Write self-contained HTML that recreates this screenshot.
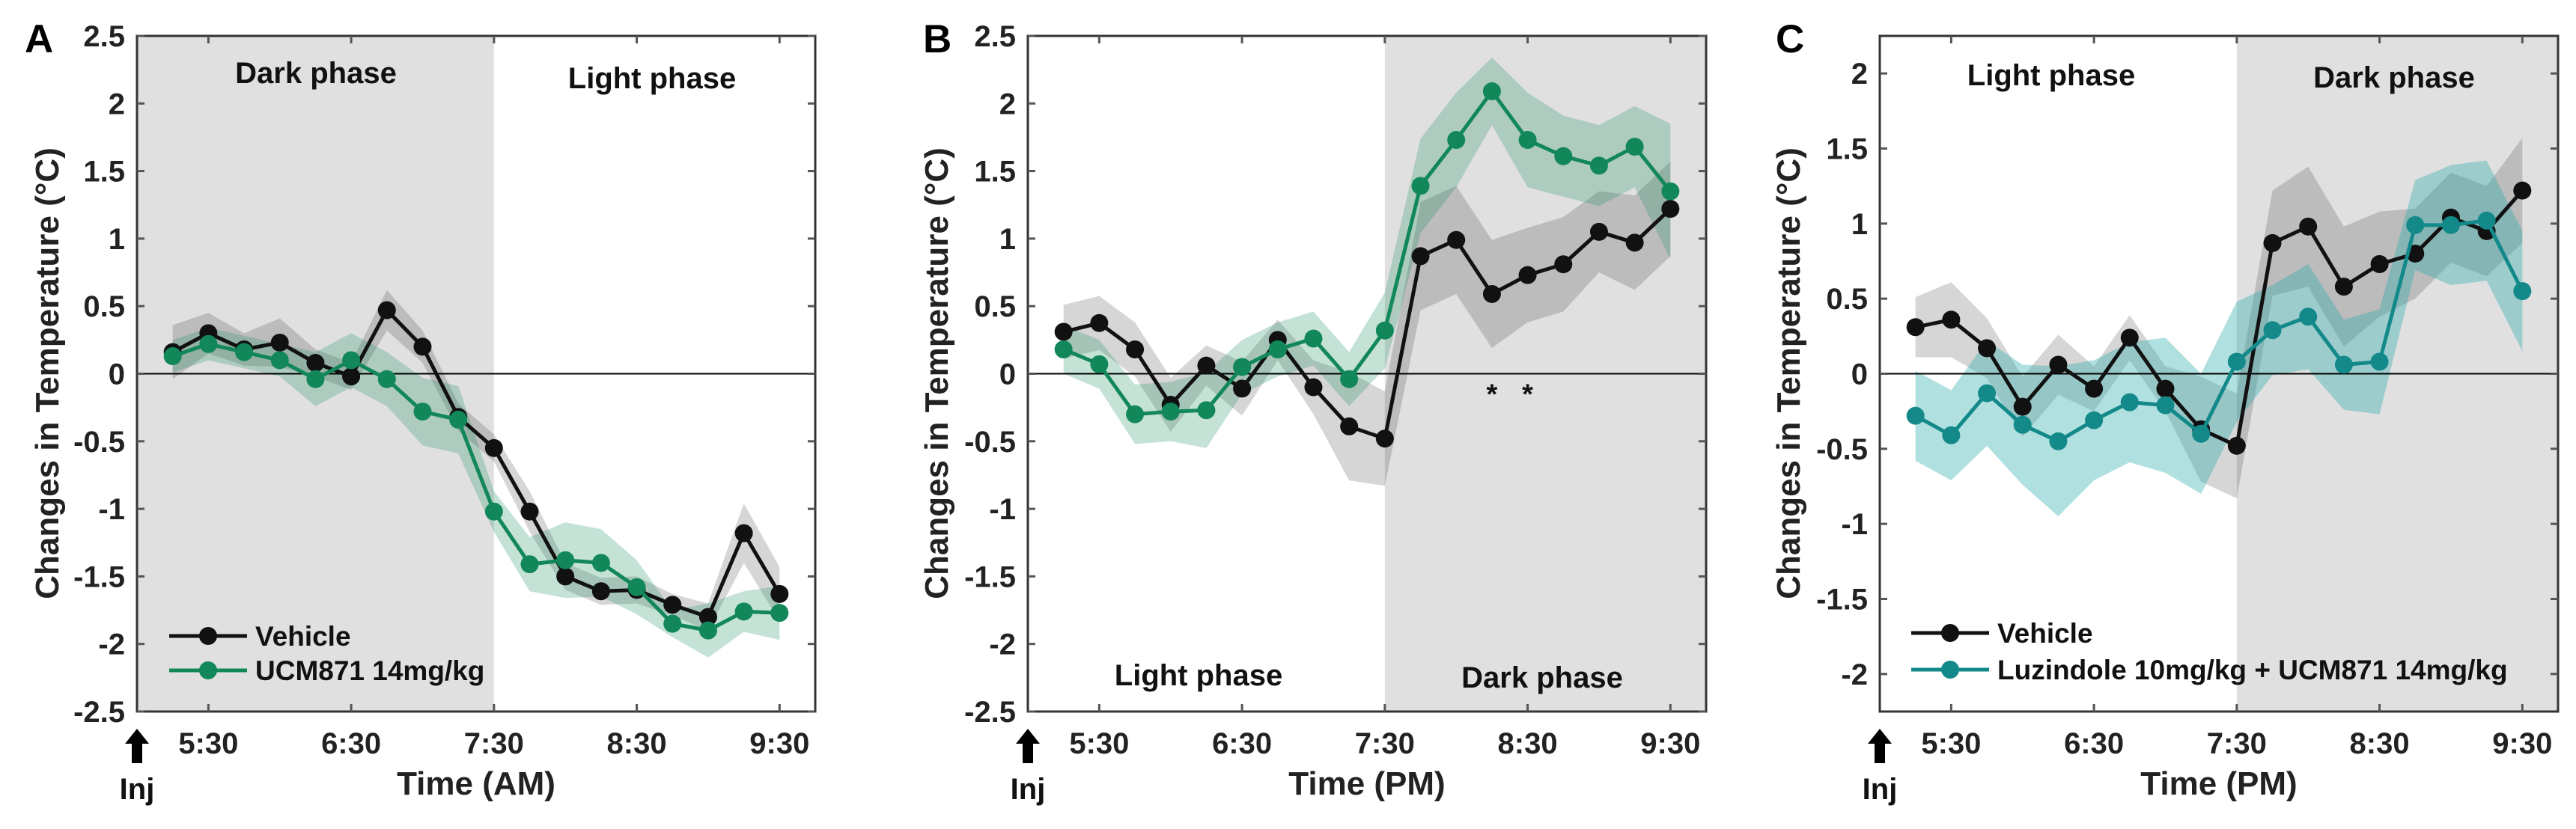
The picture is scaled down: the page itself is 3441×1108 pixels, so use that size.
<!DOCTYPE html>
<html><head><meta charset="utf-8"><style>
html,body{margin:0;padding:0;background:#fff;}
svg{display:block;font-family:"Liberation Sans",Arial,sans-serif;font-weight:bold;}
</style></head><body>
<svg id="fig" width="3441" height="1108" viewBox="0 0 3441 1108" xmlns="http://www.w3.org/2000/svg"></svg>
<script>
// time categories: hours after 5:00 (5:15 ... 9:30)
const timesH = [0.25,0.5,0.75,1,1.25,1.5,1.75,2,2.25,2.5,2.75,3,3.25,3.5,3.75,4,4.25,4.5];
const xTickLabels = ["5:30","6:30","7:30","8:30","9:30"];
const xTickHours = [0.5,1.5,2.5,3.5,4.5];

// Panel A
const aVehicle = [0.16,0.30,0.18,0.23,0.08,-0.02,0.47,0.20,-0.32,-0.55,-1.02,-1.50,-1.61,-1.60,-1.71,-1.80,-1.18,-1.63];
const aVehicleSem = [0.2,0.15,0.12,0.18,0.1,0.1,0.15,0.12,0.1,0.1,0.15,0.1,0.1,0.1,0.08,0.1,0.22,0.2];
const aUcm = [0.13,0.22,0.16,0.10,-0.04,0.10,-0.04,-0.28,-0.34,-1.02,-1.41,-1.38,-1.40,-1.58,-1.85,-1.90,-1.76,-1.77];
const aUcmSem = [0.12,0.12,0.12,0.12,0.2,0.2,0.2,0.25,0.25,0.15,0.2,0.28,0.25,0.2,0.1,0.2,0.15,0.2];
const aYTicks = [-2.5,-2,-1.5,-1,-0.5,0,0.5,1,1.5,2,2.5];

// Panel B
const bVehicle = [0.31,0.375,0.18,-0.23,0.06,-0.11,0.25,-0.10,-0.39,-0.48,0.87,0.99,0.59,0.73,0.81,1.05,0.97,1.22];
const bVehicleSem = [0.2,0.2,0.2,0.2,0.15,0.2,0.15,0.2,0.4,0.35,0.4,0.4,0.4,0.35,0.35,0.3,0.35,0.35];
const bUcm = [0.18,0.07,-0.30,-0.28,-0.27,0.05,0.18,0.26,-0.04,0.32,1.39,1.73,2.09,1.73,1.61,1.54,1.68,1.35];
const bUcmSem = [0.18,0.18,0.22,0.22,0.28,0.2,0.2,0.2,0.2,0.28,0.35,0.35,0.25,0.35,0.3,0.3,0.3,0.5];
const bYTicks = [-2.5,-2,-1.5,-1,-0.5,0,0.5,1,1.5,2,2.5];
const bStarHours = [3.25,3.5];

// Panel C
const cVehicle = [0.31,0.36,0.17,-0.22,0.06,-0.10,0.24,-0.10,-0.37,-0.48,0.87,0.98,0.58,0.73,0.80,1.04,0.95,1.22];
const cVehicleSem = [0.2,0.25,0.2,0.2,0.2,0.15,0.15,0.15,0.35,0.35,0.35,0.4,0.4,0.35,0.3,0.3,0.3,0.35];
const cLuz = [-0.28,-0.41,-0.13,-0.34,-0.45,-0.31,-0.19,-0.21,-0.40,0.08,0.29,0.38,0.06,0.08,0.99,0.99,1.02,0.55];
const cLuzSem = [0.3,0.3,0.35,0.4,0.5,0.4,0.4,0.45,0.4,0.4,0.3,0.35,0.3,0.35,0.3,0.4,0.4,0.4];
const cYTicks = [-2,-1.5,-1,-0.5,0,0.5,1,1.5,2];

const NS = "http://www.w3.org/2000/svg";
const svg = document.getElementById("fig");
function mk(tag, attrs, parent){const e=document.createElementNS(NS,tag);for(const k in attrs)e.setAttribute(k,attrs[k]);(parent||svg).appendChild(e);return e;}

const GREEN="#11875a", TEAL="#13898a";
const panels = [
 {id:"a",letter:"A",left:183,letterX:33,titleX:62,ymin:-2.5,ymax:2.5,yt:aYTicks,ampm:"AM",darkFrom:0,darkTo:2.5,
  phases:[["Dark phase",422,97,"dark-phase-label"],["Light phase",871,104,"light-phase-label"]],
  series:[{v:aVehicle,s:aVehicleSem,c:"#111",band:"rgba(0,0,0,0.16)",n:"vehicle"},{v:aUcm,s:aUcmSem,c:GREEN,band:"rgba(20,140,90,0.25)",n:"ucm871"}],
  legend:{x1:226,x2:330,y:850,dy:46,tx:341,labels:["Vehicle","UCM871 14mg/kg"]}},
 {id:"b",letter:"B",left:1373,letterX:1233,titleX:1250,ymin:-2.5,ymax:2.5,yt:bYTicks,ampm:"PM",darkFrom:2.5,darkTo:4.75,
  phases:[["Light phase",1601,902,"light-phase-label"],["Dark phase",2060,905,"dark-phase-label"]],
  series:[{v:bVehicle,s:bVehicleSem,c:"#111",band:"rgba(0,0,0,0.16)",n:"vehicle"},{v:bUcm,s:bUcmSem,c:GREEN,band:"rgba(20,140,90,0.25)",n:"ucm871"}],
  stars:bStarHours},
 {id:"c",letter:"C",left:2511,letterX:2372,titleX:2388,ymin:-2.25,ymax:2.25,yt:cYTicks,ampm:"PM",darkFrom:2.5,darkTo:4.75,
  phases:[["Light phase",2740,100,"light-phase-label"],["Dark phase",3198,103,"dark-phase-label"]],
  series:[{v:cVehicle,s:cVehicleSem,c:"#111",band:"rgba(0,0,0,0.16)",n:"vehicle"},{v:cLuz,s:cLuzSem,c:TEAL,band:"rgba(40,170,170,0.36)",n:"luzindole-ucm871"}],
  legend:{x1:2553,x2:2657,y:846,dy:49,tx:2668,labels:["Vehicle","Luzindole 10mg/kg + UCM871 14mg/kg"]}}
];

const TOP=48, BOT=951, W=906, XMAX=4.75;
panels.forEach(p=>{
  const g=mk("g",{});
  
  
  const X=h=>p.left+h/XMAX*W;
  const Y=v=>TOP+(p.ymax-v)/(p.ymax-p.ymin)*(BOT-TOP);
  const dark=mk("rect",{x:X(p.darkFrom),y:TOP,width:X(p.darkTo)-X(p.darkFrom),height:BOT-TOP,fill:"#e0e0e0"},g);
  
  
  p.phases.forEach(ph=>{
    const t=mk("text",{x:ph[1],y:ph[2]+14,"font-size":40,"text-anchor":"middle",fill:"#111"},g);
    t.textContent=ph[0];
    
    
  });
  // bands
  p.series.forEach(s=>{
    let d="";
    timesH.forEach((h,i)=>{d+=(i?"L":"M")+X(h)+","+Y(s.v[i]+s.s[i]);});
    for(let i=timesH.length-1;i>=0;i--){d+="L"+X(timesH[i])+","+Y(s.v[i]-s.s[i]);}
    const b=mk("path",{d:d+"Z",fill:s.band},g);
    
    
  });
  // zero line
  const z=mk("line",{x1:p.left,x2:p.left+W,y1:Y(0),y2:Y(0),stroke:"#000","stroke-width":2},g);
  
  
  // lines & markers
  p.series.forEach(s=>{
    const pts=timesH.map((h,i)=>X(h)+","+Y(s.v[i])).join(" ");
    const l=mk("polyline",{points:pts,fill:"none",stroke:s.c,"stroke-width":5,"stroke-linejoin":"round"},g);
    
    
    timesH.forEach((h,i)=>{
      const c=mk("circle",{cx:X(h),cy:Y(s.v[i]),r:12,fill:s.c},g);
      
      
    });
  });
  if(p.stars){p.stars.forEach(h=>{
    const t=mk("text",{x:X(h),y:Y(0)+40,"font-size":38,"text-anchor":"middle",fill:"#111"},g);
    t.textContent="*";
    
    
  });}
  // axes box
  const box=mk("rect",{x:p.left,y:TOP,width:W,height:BOT-TOP,fill:"none",stroke:"#333","stroke-width":3},g);
  
  
  p.yt.forEach(v=>{
    mk("line",{x1:p.left,x2:p.left+10,y1:Y(v),y2:Y(v),stroke:"#555","stroke-width":3},g);
    mk("line",{x1:p.left+W-10,x2:p.left+W,y1:Y(v),y2:Y(v),stroke:"#555","stroke-width":3},g);
    const t=mk("text",{x:p.left-16,y:Y(v)+14,"font-size":40,"text-anchor":"end",fill:"#222"},g);
    t.textContent=String(v);
    
    
  });
  xTickHours.forEach((h,i)=>{
    mk("line",{x1:X(h),x2:X(h),y1:BOT,y2:BOT-10,stroke:"#555","stroke-width":3},g);
    mk("line",{x1:X(h),x2:X(h),y1:TOP,y2:TOP+10,stroke:"#555","stroke-width":3},g);
    const t=mk("text",{x:X(h),y:1007,"font-size":40,"text-anchor":"middle",fill:"#222"},g);
    t.textContent=xTickLabels[i];
    
    
  });
  // injection arrow
  const ar=mk("path",{d:`M${p.left},974 L${p.left+16},994 L${p.left+7},994 L${p.left+7},1020 L${p.left-7},1020 L${p.left-7},994 L${p.left-16},994 Z`,fill:"#000"},g);
  
  
  const inj=mk("text",{x:p.left,y:1068,"font-size":40,"text-anchor":"middle",fill:"#111"},g);
  inj.textContent="Inj";
  
  
  const xt=mk("text",{x:p.left+453,y:1062,"font-size":44,"text-anchor":"middle",fill:"#222"},g);
  xt.textContent="Time ("+p.ampm+")";
  
  
  const yt=mk("text",{x:0,y:0,"font-size":44,"text-anchor":"middle",fill:"#222",transform:`translate(${p.titleX+16},499) rotate(-90)`},g);
  yt.textContent="Changes in Temperature (°C)";
  
  
  const lt=mk("text",{x:p.letterX,y:70,"font-size":53,fill:"#000"},g);
  lt.textContent=p.letter;
  
  
  if(p.legend){
    const L=p.legend;
    p.series.forEach((s,i)=>{
      const yy=L.y+i*L.dy;
      const lg=mk("g",{},g);
      
      
      mk("line",{x1:L.x1,x2:L.x2,y1:yy,y2:yy,stroke:s.c,"stroke-width":5},lg);
      mk("circle",{cx:(L.x1+L.x2)/2,cy:yy,r:12,fill:s.c},lg);
      const t=mk("text",{x:L.tx,y:yy+13,"font-size":37,fill:"#111"},lg);
      t.textContent=L.labels[i];
    });
  }
});
</script>
</body></html>
